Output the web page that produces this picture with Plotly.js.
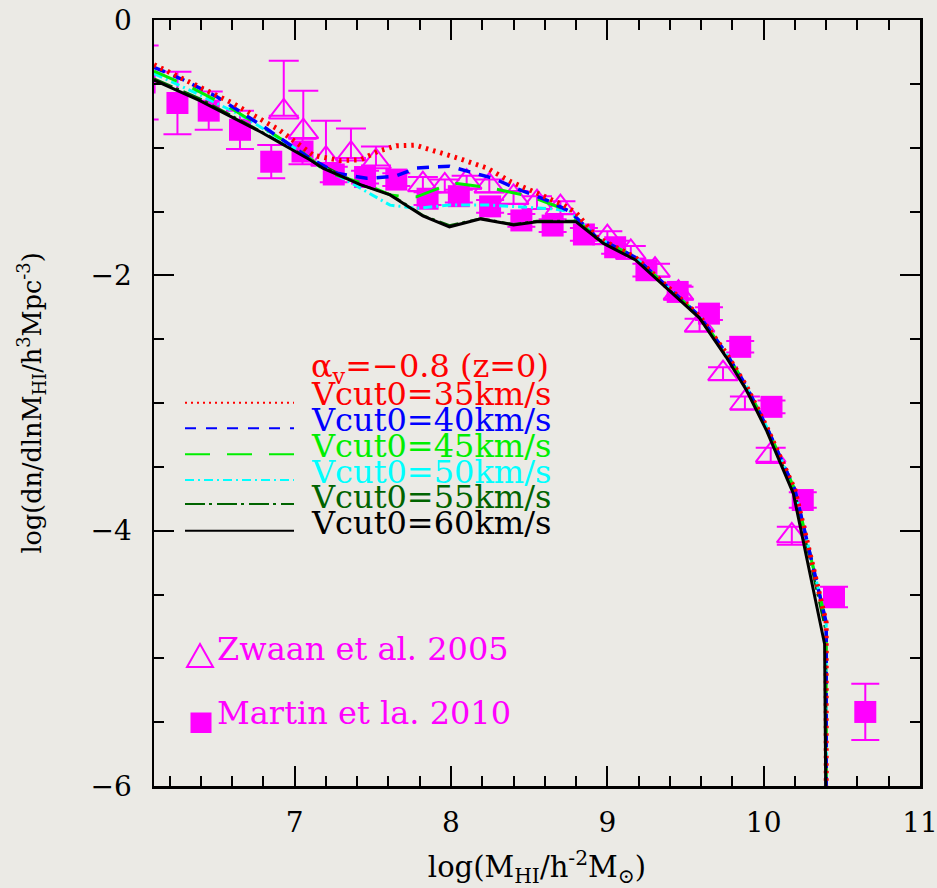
<!DOCTYPE html>
<html>
<head>
<meta charset="utf-8">
<script src="https://cdn.plot.ly/plotly-3.0.1.min.js"></script>
<style>
html,body{margin:0;padding:0;background:#ebeae5;}
#chart{width:937px;height:888px;}
</style>
</head>
<body>
<div id="chart"></div>
<script>
// ---- Observational data ----
var martinX = [6.04, 6.25, 6.45, 6.65, 6.85, 7.05, 7.25, 7.45, 7.65, 7.85, 8.05, 8.25, 8.45, 8.65, 8.85, 9.05, 9.25, 9.45, 9.65, 9.85, 10.05, 10.25, 10.45, 10.65];
var martinY = [-0.49, -0.65, -0.71, -0.86, -1.11, -1.03, -1.21, -1.23, -1.25, -1.40, -1.38, -1.46, -1.57, -1.61, -1.68, -1.78, -1.96, -2.13, -2.30, -2.56, -3.03, -3.76, -4.52, -5.42];
var martinErr = [0.29, 0.245, 0.15, 0.15, 0.13, 0.10, 0.06, 0.05, 0.05, 0.05, 0.05, 0.05, 0.05, 0.05, 0.05, 0.05, 0.05, 0.05, 0.05, 0.045, 0.05, 0.06, 0.08, 0.22];

var zwaanX = [6.93, 7.055, 7.20, 7.36, 7.52, 7.82, 7.96, 8.10, 8.245, 8.40, 8.55, 8.70, 9.00, 9.15, 9.305, 9.455, 9.59, 9.74, 9.88, 10.045, 10.18];
var zwaanY = [-0.72, -0.875, -1.09, -1.05, -1.11, -1.29, -1.30, -1.27, -1.30, -1.39, -1.43, -1.47, -1.705, -1.82, -1.96, -2.14, -2.39, -2.77, -3.00, -3.41, -4.04];
var zwaanErrPlus = [0.40, 0.32, 0.30, 0.20, 0.12, 0.06, 0.05, 0.05, 0.05, 0.05, 0.05, 0.05, 0.05, 0.05, 0.05, 0.05, 0.05, 0.05, 0.05, 0.06, 0.07];
var zwaanErrMinus = [0.03, 0.05, 0.03, 0.03, 0.03, 0.05, 0.05, 0.05, 0.05, 0.05, 0.05, 0.05, 0.05, 0.05, 0.05, 0.05, 0.05, 0.05, 0.05, 0.06, 0.07];

// ---- Model curves ----
var v35X = [6.1, 6.35, 6.6, 6.9, 7.12, 7.29, 7.42, 7.53, 7.65, 7.77, 7.89, 8.04, 8.23, 8.38, 8.53, 8.72, 8.8, 8.93, 9.18, 9.34, 9.59, 9.76, 9.89, 10.02, 10.2, 10.4, 10.4];
var v35Y = [-0.35, -0.50, -0.65, -0.86, -1.06, -1.10, -1.095, -1.03, -0.985, -0.98, -1.02, -1.08, -1.16, -1.265, -1.345, -1.45, -1.51, -1.70, -1.86, -2.04, -2.32, -2.61, -2.87, -3.19, -3.68, -4.72, -6.5];

var v40X = [6.1, 6.29, 6.5, 6.8, 7.08, 7.27, 7.46, 7.64, 7.78, 7.99, 8.12, 8.27, 8.42, 8.61, 8.76, 8.93, 9.18, 9.34, 9.59, 9.76, 9.89, 10.02, 10.2, 10.4, 10.4];
var v40Y = [-0.37, -0.47, -0.60, -0.835, -1.07, -1.20, -1.24, -1.225, -1.16, -1.145, -1.19, -1.24, -1.32, -1.41, -1.50, -1.70, -1.86, -2.04, -2.32, -2.61, -2.87, -3.19, -3.68, -4.72, -6.5];

var v45X = [6.1, 6.35, 6.59, 6.82, 7.06, 7.2, 7.44, 7.61, 7.7, 7.78, 7.95, 8.04, 8.19, 8.29, 8.46, 8.57, 8.72, 8.93, 9.18, 9.34, 9.59, 9.76, 9.89, 10.02, 10.2, 10.4, 10.4];
var v45Y = [-0.40, -0.535, -0.69, -0.86, -1.045, -1.19, -1.28, -1.37, -1.385, -1.385, -1.305, -1.28, -1.305, -1.325, -1.37, -1.41, -1.48, -1.70, -1.86, -2.04, -2.32, -2.61, -2.87, -3.19, -3.68, -4.72, -6.5];

var v50X = [6.1, 6.39, 6.67, 6.97, 7.18, 7.4, 7.61, 7.78, 7.99, 8.25, 8.46, 8.66, 8.76, 8.93, 9.18, 9.34, 9.59, 9.76, 9.89, 10.02, 10.2, 10.4, 10.4];
var v50Y = [-0.42, -0.585, -0.755, -0.98, -1.15, -1.305, -1.45, -1.475, -1.45, -1.45, -1.465, -1.48, -1.50, -1.70, -1.86, -2.04, -2.32, -2.61, -2.87, -3.19, -3.68, -4.72, -6.5];

var v55X = [6.1, 6.4, 6.78, 7.1, 7.42, 7.61, 7.82, 7.99, 8.19, 8.4, 8.55, 8.8, 8.95, 9.18, 9.34, 9.59, 9.76, 9.89, 10.02, 10.2, 10.4, 10.4];
var v55Y = [-0.46, -0.62, -0.87, -1.09, -1.29, -1.365, -1.53, -1.61, -1.555, -1.60, -1.575, -1.575, -1.72, -1.87, -2.05, -2.33, -2.63, -2.89, -3.21, -3.70, -4.80, -6.5];

var v60X = [6.1, 6.39, 6.78, 7.1, 7.18, 7.42, 7.61, 7.82, 7.99, 8.19, 8.4, 8.55, 8.8, 8.975, 9.18, 9.34, 9.59, 9.76, 9.89, 10.02, 10.19, 10.39, 10.4];
var v60Y = [-0.47, -0.63, -0.875, -1.096, -1.16, -1.29, -1.37, -1.535, -1.62, -1.558, -1.605, -1.58, -1.58, -1.75, -1.88, -2.06, -2.335, -2.64, -2.90, -3.22, -3.71, -4.89, -6.5];

var xTicks = [7, 8, 9, 10, 11];
var yTicks = [0, -2, -4, -6];

var MAG = '#ff00ff';
var FONT = 'DejaVu Serif';

var traces = [
  {x: zwaanX, y: zwaanY, type: 'scatter', mode: 'markers', name: 'Zwaan et al. 2005',
   marker: {symbol: 'triangle-up-open', size: 26, color: MAG, line: {width: 2, color: MAG}},
   error_y: {type: 'data', symmetric: false, array: zwaanErrPlus, arrayminus: zwaanErrMinus, color: MAG, thickness: 2, width: 15}},
  {x: martinX, y: martinY, type: 'scatter', mode: 'markers', name: 'Martin et la. 2010',
   marker: {symbol: 'square', size: 22, color: MAG},
   error_y: {type: 'data', array: martinErr, color: MAG, thickness: 2, width: 14}},
  {x: v55X, y: v55Y, type: 'scatter', mode: 'lines', name: 'Vcut0=55km/s',
   line: {color: '#006400', width: 2.5, dash: '20px,4px,3px,5px'}},
  {x: v50X, y: v50Y, type: 'scatter', mode: 'lines', name: 'Vcut0=50km/s',
   line: {color: '#00ffff', width: 3, dash: '9px,4px,2px,4px'}},
  {x: v45X, y: v45Y, type: 'scatter', mode: 'lines', name: 'Vcut0=45km/s',
   line: {color: '#00ee00', width: 3, dash: '25px,17px'}},
  {x: v40X, y: v40Y, type: 'scatter', mode: 'lines', name: 'Vcut0=40km/s',
   line: {color: '#0000ff', width: 3.5, dash: '12px,9px'}},
  {x: v35X, y: v35Y, type: 'scatter', mode: 'lines', name: 'Vcut0=35km/s',
   line: {color: '#ff0000', width: 5, dash: '2.5px,5px'}},
  {x: v60X, y: v60Y, type: 'scatter', mode: 'lines', name: 'Vcut0=60km/s',
   line: {color: '#000000', width: 3}}
];

// paper coordinate helpers for the in-plot key (pixel layout -> paper fraction)
function px(p){ return (p - 154) / 766; }
function py(p){ return (786 - p) / 766; }

var keyLines = [
  {y: 402.7, color: '#ff0000', width: 2, dash: '2px,4px'},
  {y: 428.3, color: '#0000ff', width: 2, dash: '11px,10px'},
  {y: 454.3, color: '#00ee00', width: 2, dash: '25px,17px'},
  {y: 480.0, color: '#00ffff', width: 2, dash: '9px,4px,2px,4px'},
  {y: 504.0, color: '#006400', width: 2, dash: '20px,4px,3px,5px'},
  {y: 530.7, color: '#000000', width: 2, dash: 'solid'}
];
var shapes = keyLines.map(function(k){
  return {type: 'line', xref: 'paper', yref: 'paper', x0: px(185), x1: px(294), y0: py(k.y), y1: py(k.y),
          line: {color: k.color, width: k.width, dash: k.dash}};
});
shapes.push({type: 'path', xref: 'paper', yref: 'paper',
  path: 'M ' + px(187) + ' ' + py(667) + ' L ' + px(213) + ' ' + py(667) + ' L ' + px(200) + ' ' + py(644) + ' Z',
  line: {color: MAG, width: 2}});
shapes.push({type: 'rect', xref: 'paper', yref: 'paper', x0: px(190.5), x1: px(211.5), y0: py(733), y1: py(712.5),
  fillcolor: MAG, line: {width: 0}});

var keyTexts = [
  {t: 'α<sub>v</sub>=−0.8 (z=0)', y: 368, c: '#ff0000'},
  {t: 'Vcut0=35km/s', y: 394, c: '#ff0000'},
  {t: 'Vcut0=40km/s', y: 420, c: '#0000ff'},
  {t: 'Vcut0=45km/s', y: 446, c: '#00ee00'},
  {t: 'Vcut0=50km/s', y: 471.7, c: '#00ffff'},
  {t: 'Vcut0=55km/s', y: 496.7, c: '#006400'},
  {t: 'Vcut0=60km/s', y: 522.7, c: '#000000'}
];
var annotations = keyTexts.map(function(k){
  return {xref: 'paper', yref: 'paper', x: px(309), y: py(k.y), xanchor: 'left', yanchor: 'middle',
          text: k.t, showarrow: false, font: {family: FONT, size: 32, color: k.c}};
});
annotations.push({xref: 'paper', yref: 'paper', x: px(215), y: py(649), xanchor: 'left', yanchor: 'middle',
  text: 'Zwaan et al. 2005', showarrow: false, font: {family: FONT, size: 32, color: MAG}});
annotations.push({xref: 'paper', yref: 'paper', x: px(215), y: py(713), xanchor: 'left', yanchor: 'middle',
  text: 'Martin et la. 2010', showarrow: false, font: {family: FONT, size: 32, color: MAG}});

var layout = {
  width: 937, height: 888,
  margin: {l: 154, r: 17, t: 20, b: 102},
  paper_bgcolor: '#ebeae5',
  plot_bgcolor: '#ebeae5',
  showlegend: false,
  font: {family: FONT, color: '#000'},
  xaxis: {
    range: [6.1, 11], tickvals: xTicks, ticktext: xTicks.map(String),
    ticks: 'inside', ticklen: 20, tickwidth: 2, tickcolor: '#000',
    minor: {dtick: 0.2, tick0: 6, ticks: 'inside', ticklen: 10, tickwidth: 2, tickcolor: '#000'},
    showline: true, linewidth: 2.5, linecolor: '#000', mirror: 'ticks',
    showgrid: false, zeroline: false,
    tickfont: {family: FONT, size: 28, color: '#000'},
    ticklabelstandoff: 10,
    ticklabeloverflow: 'allow',
    title: {text: 'log(M<sub>HI</sub>/h<sup>-2</sup>M<sub>⊙</sub>)', font: {family: FONT, size: 29, color: '#000'}, standoff: 28}
  },
  yaxis: {
    range: [-6, 0], tickvals: yTicks,
    ticks: 'inside', ticklen: 20, tickwidth: 2, tickcolor: '#000',
    minor: {dtick: 0.5, ticks: 'inside', ticklen: 10, tickwidth: 2, tickcolor: '#000'},
    showline: true, linewidth: 2.5, linecolor: '#000', mirror: 'ticks',
    showgrid: false, zeroline: false,
    tickfont: {family: FONT, size: 28, color: '#000'},
    ticklabelstandoff: 14,
    title: {text: 'log(dn/dlnM<sub>HI</sub>/h<sup>3</sup>Mpc<sup>-3</sup>)', font: {family: FONT, size: 25.5, color: '#000'}, standoff: 42}
  },
  shapes: shapes,
  annotations: annotations
};

Plotly.newPlot('chart', traces, layout, {displayModeBar: false, staticPlot: true});
</script>
</body>
</html>
